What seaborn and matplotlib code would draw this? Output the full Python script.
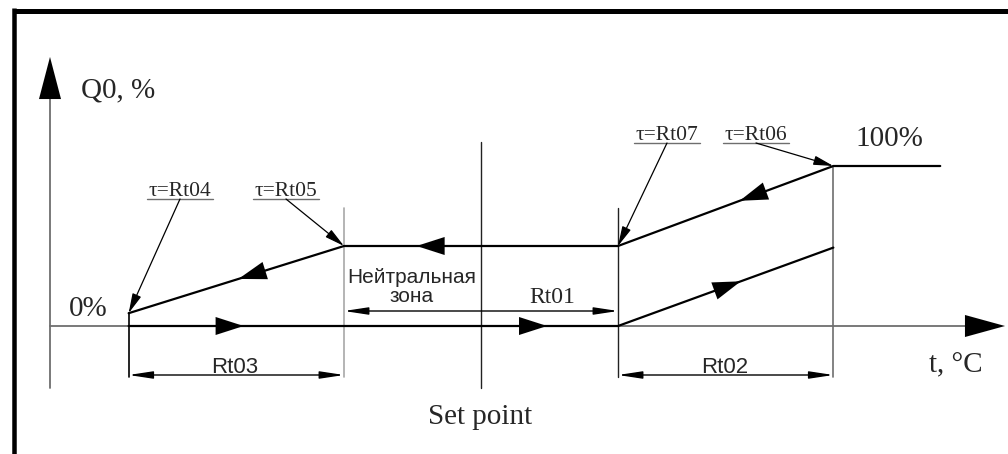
import numpy as np
import matplotlib
matplotlib.use('Agg')
import matplotlib.pyplot as plt
import seaborn as sns
import pandas as pd

# Diagram values: t in scale units around the set point, Q0 in %
zone_edges = [-6.43, -2.5, 0.0, 2.5, 6.43]   # Rt03 start, zone left, set point, zone right, Rt02 end
heat_t = [-6.43, 2.5, 6.43]
heat_q = [0, 0, 49]
cool_t = [8.38, 6.43, 2.5, -2.5, -6.43]
cool_q = [100, 100, 50, 50, 8]
tau_labels = ['τ=Rt04', 'τ=Rt05', 'τ=Rt07', 'τ=Rt06']
dim_labels = ['Rt03', 'Rt01', 'Rt02']
level_labels = ['0%', '100%']

# pixel layout helpers
W, H = 1008, 454
X0, XS = 481, 54.8
Y0, YS = 326, 1.6
def T(px): return (px - X0) / XS
def Q(py): return (Y0 - py) / YS
PT = 100 / 72  # px per point

sns.set_theme(style='white')
plt.rcParams['font.family'] = ['Liberation Serif', 'DejaVu Serif']
SANS = ['Liberation Sans', 'DejaVu Sans']

fig = plt.figure(figsize=(W / 100, H / 100), dpi=100)
ax = fig.add_axes([0, 0, 1, 1])
ax.set_xlim(T(0), T(W))
ax.set_ylim(Q(H), Q(0))
ax.axis('off')

GRAY = '#6e6e6e'
LIGHT = '#a8a8a8'


def head(tip, base, length, half, color='black'):
    style = f'-|>,head_length={length / PT / 10:.3f},head_width={half / PT / 10:.3f}'
    ax.annotate('', xy=tip, xytext=base,
                arrowprops=dict(arrowstyle=style, mutation_scale=10, lw=0.01,
                                color=color, shrinkA=0, shrinkB=0))


def along(ts, qs, i, frac):
    t = ts[i] + (ts[i + 1] - ts[i]) * frac
    q = qs[i] + (qs[i + 1] - qs[i]) * frac
    return t, q


def dim(t1, t2, q):
    style = '<|-|>,head_length=1.45,head_width=0.22'
    ax.annotate('', xy=(t2, q), xytext=(t1, q),
                arrowprops=dict(arrowstyle=style, mutation_scale=10, lw=1.0,
                                color='black', shrinkA=0, shrinkB=0))


# frame
ax.plot([T(14), T(W)], [Q(10.5), Q(10.5)], color='black', lw=5 / PT, solid_capstyle='butt')
ax.plot([T(14), T(14)], [Q(8), Q(H)], color='black', lw=4.5 / PT, solid_capstyle='butt')

# coordinate axes
ax_t = T(50)
ax.plot([ax_t, ax_t], [Q(388), Q(99)], color=GRAY, lw=1.3)
head((ax_t, Q(57)), (ax_t, Q(70)), 42, 11)
ax.plot([ax_t, T(966)], [0, 0], color=GRAY, lw=1.3)
head((T(1005), 0), (T(990), 0), 40, 11)

# extension lines
lo_dim = Q(377)
ax.plot([zone_edges[0]] * 2, [cool_q[-1], lo_dim], color='black', lw=1.2)
ax.plot([zone_edges[1]] * 2, [Q(208), lo_dim], color=LIGHT, lw=1.2)
ax.plot([zone_edges[2]] * 2, [Q(142), Q(388)], color='#222222', lw=1.0)
ax.plot([zone_edges[3]] * 2, [Q(208), lo_dim], color='#222222', lw=1.0)
ax.plot([zone_edges[4]] * 2, [cool_q[1], lo_dim], color=GRAY, lw=1.2)

# heating and cooling paths
df_heat = pd.DataFrame({'t': heat_t, 'q': heat_q})
df_cool = pd.DataFrame({'t': cool_t, 'q': cool_q})
sns.lineplot(data=df_heat, x='t', y='q', sort=False, color='black', lw=1.6, ax=ax)
sns.lineplot(data=df_cool, x='t', y='q', sort=False, color='black', lw=1.6, ax=ax)

# direction arrows on paths
for ts, qs, i, frac in [(heat_t, heat_q, 0, 0.235), (heat_t, heat_q, 0, 0.855),
                        (heat_t, heat_q, 1, 0.57),
                        (cool_t, cool_q, 1, 0.435), (cool_t, cool_q, 2, 0.735),
                        (cool_t, cool_q, 3, 0.49)]:
    tip = along(ts, qs, i, frac)
    base = along(ts, qs, i, frac - 0.05)
    head(tip, base, 28, 9)

# dimension lines
dim(zone_edges[0], zone_edges[1], Q(375))
dim(zone_edges[1], zone_edges[3], Q(311))
dim(zone_edges[3], zone_edges[4], Q(375))
ax.text(T(235), Q(373), dim_labels[0], family=SANS, fontsize=16, ha='center', va='baseline')
ax.text(T(552), Q(303), dim_labels[1], fontsize=17, ha='center', va='baseline')
ax.text(T(725), Q(373), dim_labels[2], family=SANS, fontsize=16, ha='center', va='baseline')
ax.text(T(412), Q(287), 'Нейтральная\nзона', family=SANS, fontsize=15,
        ha='center', va='center', linespacing=0.95)

# tau labels with leaders
tau_pos = [(180, 199), (286, 199), (667, 143), (756, 143)]
tau_tgt = [(zone_edges[0], cool_q[4]), (zone_edges[1], cool_q[3]),
           (zone_edges[3], cool_q[2]), (zone_edges[4], cool_q[1])]
for lab, (px, py), tgt in zip(tau_labels, tau_pos, tau_tgt):
    ax.text(T(px), Q(py - 3), lab, fontsize=15.5, ha='center', va='baseline')
    ax.plot([T(px - 33), T(px + 33)], [Q(py), Q(py)], color=GRAY, lw=1.0)
    ax.annotate('', xy=tgt, xytext=(T(px), Q(py)),
                arrowprops=dict(arrowstyle='-|>,head_length=1.2,head_width=0.28',
                                mutation_scale=10, lw=0.9, color='black',
                                shrinkA=0, shrinkB=0))

# axis and level texts
ax.text(T(81), Q(90), 'Q0, %', fontsize=21, ha='left', va='center')
ax.text(T(88), Q(309), level_labels[0], fontsize=21, ha='center', va='center')
ax.text(T(889), Q(139), level_labels[1], fontsize=21, ha='center', va='center')
ax.text(T(956), Q(365), 't, °C', fontsize=21, ha='center', va='center')
ax.text(T(480), Q(417), 'Set point', fontsize=21, ha='center', va='center')

fig.savefig('out.png', dpi=100)
